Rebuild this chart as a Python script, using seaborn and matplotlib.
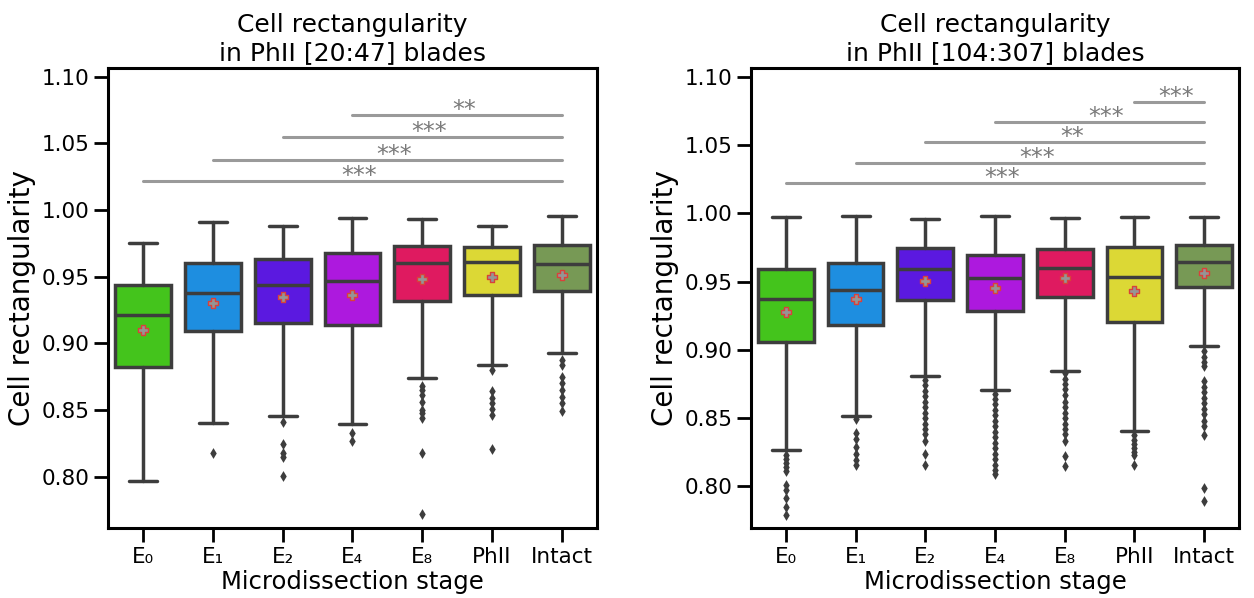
import matplotlib
matplotlib.use("Agg")
import matplotlib.pyplot as plt
import numpy as np
import pandas as pd
import seaborn as sns

# stages on the x axis
stages = ['E₀', 'E₁', 'E₂', 'E₄', 'E₈', 'PhII', 'Intact']
farby = ['#44c41c', '#1e8ee0', '#5b19e0', '#ad19de', '#df1a60', '#dcd835', '#779955']

# panel 1 : PhII [20:47]
q1_a = [0.882, 0.9095, 0.915, 0.914, 0.932, 0.936, 0.939]
med_a = [0.921, 0.9376, 0.944, 0.947, 0.960, 0.961, 0.9595]
q3_a = [0.944, 0.960, 0.963, 0.968, 0.973, 0.972, 0.974]
lo_a = [0.797, 0.840, 0.8455, 0.8395, 0.874, 0.884, 0.8925]
hi_a = [0.975, 0.991, 0.988, 0.994, 0.993, 0.988, 0.9955]
mean_a = [0.910, 0.930, 0.9346, 0.936, 0.948, 0.950, 0.951]
fliers_a = [
    [],
    [0.818],
    [0.841, 0.8245, 0.818, 0.815, 0.8005],
    [0.8325, 0.827],
    [0.868, 0.865, 0.861, 0.856, 0.850, 0.8475, 0.844, 0.8175, 0.772],
    [0.880, 0.864, 0.859, 0.855, 0.851, 0.846, 0.8205],
    [0.8875, 0.884, 0.875, 0.870, 0.865, 0.860, 0.855, 0.8495],
]
sig_start_a = [0, 1, 2, 3]
sig_y_a = [1.0213, 1.0374, 1.0546, 1.0713]
sig_txt_a = ['***', '***', '***', '**']

# panel 2 : PhII [104:307]
q1_b = [0.9057, 0.9184, 0.9362, 0.9288, 0.9384, 0.9203, 0.9464]
med_b = [0.9374, 0.9435, 0.9594, 0.953, 0.9599, 0.9537, 0.9647]
q3_b = [0.9594, 0.9635, 0.9745, 0.9696, 0.974, 0.9757, 0.9769]
lo_b = [0.8264, 0.8518, 0.8805, 0.8708, 0.8847, 0.8403, 0.9025]
hi_b = [0.9976, 0.9982, 0.9957, 0.9984, 0.9965, 0.9976, 0.9976]
mean_b = [0.9277, 0.9374, 0.9506, 0.9452, 0.953, 0.9432, 0.9562]
fliers_b = [
    [0.823, 0.820, 0.817, 0.814, 0.811, 0.801, 0.797, 0.7915, 0.785, 0.779],
    [0.849, 0.839, 0.835, 0.829, 0.824, 0.8195, 0.816],
    [0.878, 0.874, 0.870, 0.866, 0.862, 0.858, 0.854, 0.850, 0.846, 0.842, 0.838, 0.833, 0.8234, 0.816],
    [0.868, 0.864, 0.860, 0.856, 0.852, 0.848, 0.844, 0.840, 0.836, 0.832, 0.828, 0.824, 0.820, 0.816, 0.812, 0.809],
    [0.883, 0.879, 0.875, 0.871, 0.867, 0.862, 0.858, 0.854, 0.850, 0.846, 0.842, 0.838, 0.833, 0.822, 0.8146],
    [0.8378, 0.834, 0.831, 0.828, 0.825, 0.8232, 0.816],
    [0.899, 0.895, 0.891, 0.888, 0.877, 0.873, 0.869, 0.865, 0.861, 0.857, 0.853, 0.848, 0.844, 0.8378, 0.7988, 0.789],
]
sig_start_b = [0, 1, 2, 3, 5]
sig_y_b = [1.0221, 1.0367, 1.0525, 1.0672, 1.0818]
sig_txt_b = ['***', '***', '**', '***', '***']

tytuly = ['Cell rectangularity\nin PhII [20:47] blades', 'Cell rectangularity\nin PhII [104:307] blades']
ylimy = [(0.7615, 1.1064), (0.7695, 1.1065)]

sns.set_theme(context='talk', style='ticks')
plt.rcParams['font.family'] = ['DejaVu Sans']
plt.rcParams['text.color'] = 'black'
plt.rcParams['axes.labelcolor'] = 'black'
plt.rcParams['xtick.color'] = 'black'
plt.rcParams['ytick.color'] = 'black'

fig = plt.figure(figsize=(12.54, 5.98), dpi=100)
ax1 = fig.add_axes([0.0865, 0.1171, 0.3892, 0.7692])
ax2 = fig.add_axes([0.5989, 0.1171, 0.3892, 0.7692])

panele = [
    (ax1, q1_a, med_a, q3_a, lo_a, hi_a, mean_a, fliers_a, sig_start_a, sig_y_a, sig_txt_a),
    (ax2, q1_b, med_b, q3_b, lo_b, hi_b, mean_b, fliers_b, sig_start_b, sig_y_b, sig_txt_b),
]
szary = '#3d3d3d'
for i, (ax, q1, med, q3, lo, hi, mean, fl, s_start, s_y, s_txt) in enumerate(panele):
    stats = []
    for j in range(len(stages)):
        stats.append(dict(q1=q1[j], med=med[j], q3=q3[j], whislo=lo[j], whishi=hi[j],
                          mean=mean[j], fliers=[]))
    bp = ax.bxp(stats, positions=range(len(stages)), widths=0.8, patch_artist=True,
                showfliers=False, showmeans=False, manage_ticks=False,
                boxprops=dict(edgecolor=szary, linewidth=2.5),
                medianprops=dict(color=szary, linewidth=2.5),
                whiskerprops=dict(color=szary, linewidth=2.5),
                capprops=dict(color=szary, linewidth=2.5))
    for patch, c in zip(bp['boxes'], farby):
        patch.set_facecolor(c)

    # outliers
    fl_df = pd.DataFrame({'stage': [stages[j] for j in range(len(stages)) for v in fl[j]],
                          'value': [v for j in range(len(stages)) for v in fl[j]]})
    sns.stripplot(data=fl_df, x='stage', y='value', order=stages, jitter=False, marker='d',
                  color=szary, size=5.5, linewidth=0, ax=ax, zorder=3)
    # means
    mean_df = pd.DataFrame({'stage': stages, 'value': mean})
    sns.stripplot(data=mean_df, x='stage', y='value', order=stages, jitter=False, marker='P',
                  color='#959595', edgecolor='#d9413b', linewidth=1, size=7.5, ax=ax, zorder=4)

    # significance bars
    koniec = len(stages) - 1
    for st, yy, tt in zip(s_start, s_y, s_txt):
        ax.plot([st, koniec], [yy, yy], color='#9a9a9a', lw=2.2, zorder=2)
        ax.annotate(tt, xy=((st + koniec) / 2 + 0.1, yy), xytext=(0, -5),
                    textcoords='offset points', ha='center', va='bottom',
                    fontsize=17, color='#7a7a7a')

    ax.set_xlim(-0.5, len(stages) - 0.5)
    ax.set_ylim(*ylimy[i])
    ax.set_yticks([0.80, 0.85, 0.90, 0.95, 1.00, 1.05, 1.10])
    ax.set_yticklabels(['0.80', '0.85', '0.90', '0.95', '1.00', '1.05', '1.10'])
    ax.set_xticks(range(len(stages)))
    ax.set_xticklabels(stages)
    ax.tick_params(labelsize=15.5, length=10, width=2, colors='black')
    for sp in ax.spines.values():
        sp.set_linewidth(2.2)
        sp.set_color('black')
    ax.set_title(tytuly[i], fontsize=18, pad=6, color='black')
    ax.set_xlabel('Microdissection stage', fontsize=17.5, labelpad=2, color='black')
    ax.set_ylabel('Cell rectangularity', fontsize=20, labelpad=4, color='black')

fig.savefig('out.png', dpi=100)
